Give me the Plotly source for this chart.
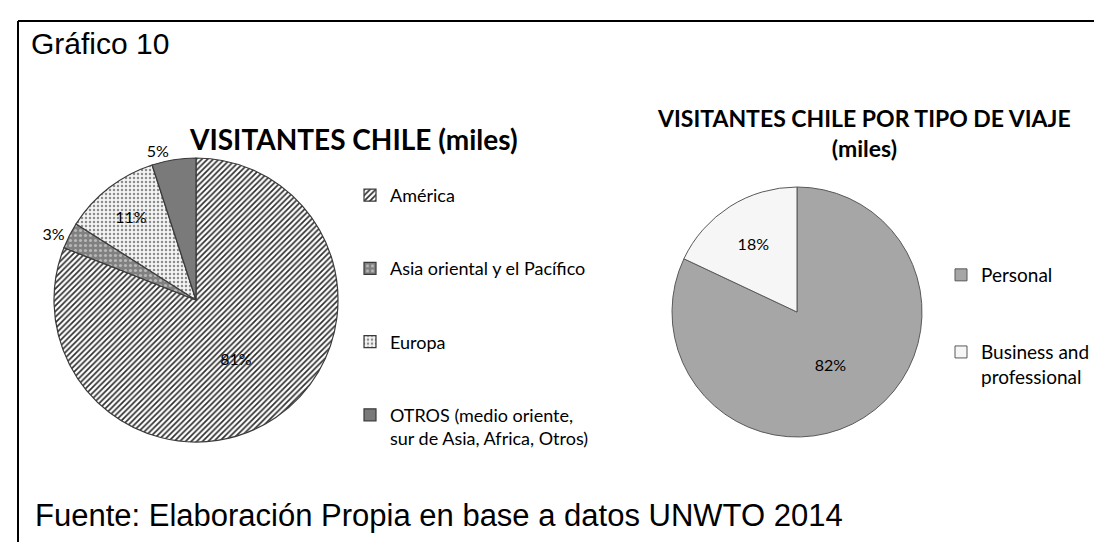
import plotly.graph_objects as go

# ---- data ----
regions = ["América", "Asia oriental y el Pacífico", "Europa",
           "OTROS (medio oriente,<br>sur de Asia, Africa, Otros)"]
region_share = [81, 3, 11, 5]

trip_types = ["Personal", "Business and<br>professional"]
trip_share = [82, 18]

title_left = "VISITANTES CHILE (miles)"
title_right = "VISITANTES CHILE POR TIPO DE VIAJE<br>(miles)"
fig_label = "Gráfico 10"
source = "Fuente: Elaboración Propia en base a datos UNWTO 2014"

W, H = 1102, 542
CAL = "Lato, 'Open Sans', sans-serif"
ARIAL = "'Liberation Sans', Arial, sans-serif"


def pad(lbls, n):
    out = []
    for l in lbls:
        lines = l.count("<br>") + 1
        out.append(l + "<br> " * max(0, n - lines))
    return out


def px_x(a, b):
    return [a / W, b / W]


def px_y(top, bottom):
    return [1 - bottom / H, 1 - top / H]


left_labels = pad(regions, 3)
right_labels = pad(trip_types, 3)

fig = go.Figure()

fig.add_trace(go.Pie(
    labels=left_labels, values=region_share, sort=False,
    direction="clockwise", rotation=0,
    domain=dict(x=px_x(46, 330), y=px_y(150, 434)),
    marker=dict(
        colors=["#ffffff", "#7f7f7f", "#ffffff", "#7a7a7a"],
        line=dict(color="#3a3a3a", width=1.2),
        pattern=dict(
            shape=["/", ".", ".", ""],
            fgcolor=["#2e2e2e", "#b8b8b8", "#8c8c8c", "#7a7a7a"],
            bgcolor=["#ffffff", "#808080", "#f4f4f4", "#7a7a7a"],
            size=[4, 5, 4, 5],
            solidity=[0.42, 0.3, 0.3, 0.3],
            fillmode="replace",
        ),
    ),
    textinfo="percent", texttemplate="%{percent:.0%}",
    textposition=["inside", "outside", "inside", "outside"],
    insidetextorientation="horizontal",
    textfont=dict(family=CAL, size=16, color="#000000"),
    legend="legend",
    showlegend=True,
))

fig.add_trace(go.Pie(
    labels=right_labels, values=trip_share, sort=False,
    direction="clockwise", rotation=0,
    domain=dict(x=px_x(664, 914), y=px_y(179, 429)),
    marker=dict(colors=["#a6a6a6", "#f6f6f6"],
                line=dict(color="#595959", width=1)),
    textinfo="percent", texttemplate="%{percent:.0%}",
    textposition="inside", insidetextorientation="horizontal",
    textfont=dict(family=CAL, size=16, color="#000000"),
    legend="legend2",
))

fig.update_layout(
    width=W, height=H,
    margin=dict(l=0, r=0, t=0, b=0),
    paper_bgcolor="#ffffff", plot_bgcolor="#ffffff",
    font=dict(family=CAL, color="#000000"),
    legend=dict(x=342 / W, y=1 - 169 / H, xanchor="left", yanchor="top",
                valign="top", font=dict(family=CAL, size=18, color="#000000"),
                bgcolor="rgba(0,0,0,0)", itemclick=False),
    legend2=dict(x=933 / W, y=1 - 248 / H, xanchor="left", yanchor="top",
                 valign="top", font=dict(family=CAL, size=19, color="#000000"),
                 bgcolor="rgba(0,0,0,0)", itemclick=False),
    shapes=[
        dict(type="line", xref="paper", yref="paper",
             x0=10 / W, x1=1.01, y0=1 - 13 / H, y1=1 - 13 / H,
             line=dict(color="#000000", width=2)),
        dict(type="line", xref="paper", yref="paper",
             x0=10 / W, x1=10 / W, y0=-0.01, y1=1 - 13 / H,
             line=dict(color="#000000", width=2)),
    ],
    annotations=[
        dict(text=fig_label, xref="paper", yref="paper", x=21 / W, y=1 - 35 / H,
             xanchor="left", yanchor="middle", showarrow=False,
             font=dict(family=ARIAL, size=30, color="#000000")),
        dict(text=source, xref="paper", yref="paper", x=25 / W, y=1 - 507 / H,
             xanchor="left", yanchor="middle", showarrow=False,
             font=dict(family=ARIAL, size=31, color="#000000")),
        dict(text="<b>" + title_left + "</b>", xref="paper", yref="paper",
             x=345 / W, y=1 - 131 / H, xanchor="center", yanchor="middle",
             showarrow=False, font=dict(family=CAL, size=28, color="#000000")),
        dict(text="<b>" + title_right + "</b>", xref="paper", yref="paper",
             x=856 / W, y=1 - 125 / H, xanchor="center", yanchor="middle",
             showarrow=False, font=dict(family=CAL, size=23, color="#000000")),
    ],
)

fig.write_html("out.html")
